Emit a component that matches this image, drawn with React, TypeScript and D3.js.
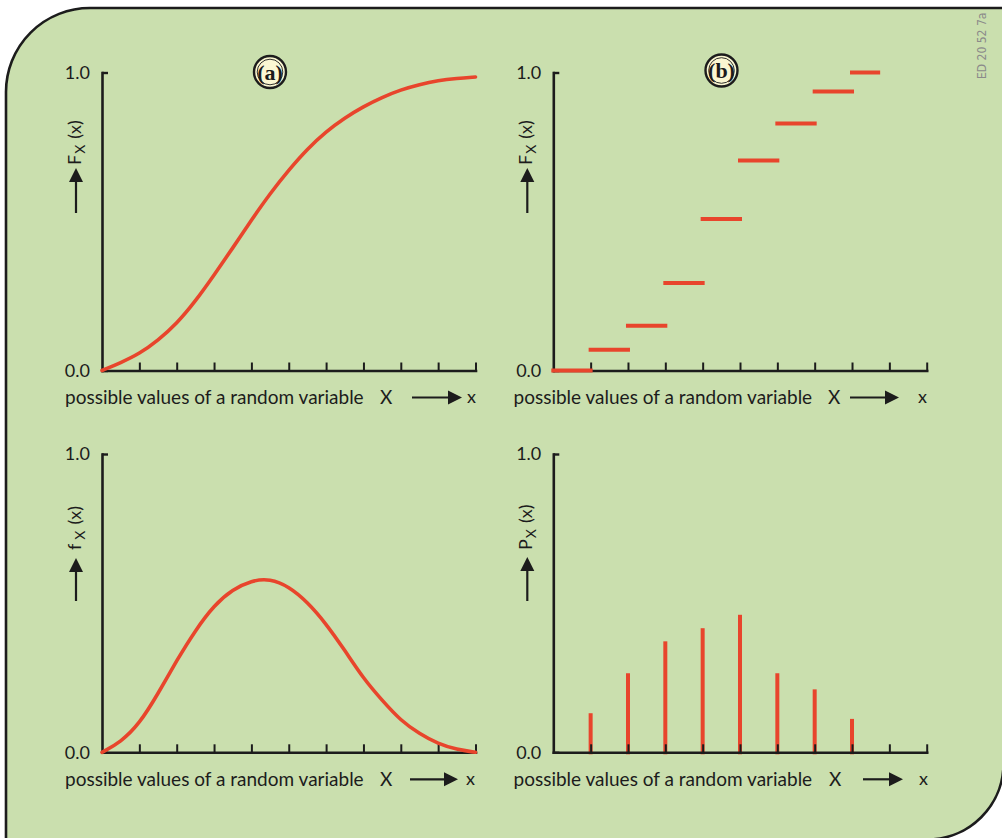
import { useEffect, useRef } from 'react';
import * as d3 from 'd3';

const W = 1002;
const H = 838;
const RED = '#e8452c';
const INK = '#1c1c1c';
const GREEN = '#cadfae';
const CREAM = '#fbf7d2';
const FONT = 'Lato, "Open Sans", sans-serif';

// shared axis data
const xTickValues = [1, 2, 3, 4, 5, 6, 7, 8, 9, 10];
const yTickValues = [0, 1];
const xAxisTitle = 'possible values of a random variable';

// (a) cumulative distribution of a continuous variable
const cdfX = [0, 0.5, 1, 1.5, 2, 2.5, 3, 3.5, 4, 4.5, 5, 5.5, 6, 6.5, 7, 7.5, 8, 8.5, 9, 9.5, 10];
const cdfY = [0, 0.026, 0.056, 0.101, 0.157, 0.232, 0.32, 0.411, 0.505, 0.594, 0.673, 0.744, 0.802, 0.848, 0.886, 0.917, 0.942, 0.96, 0.973, 0.98, 0.985];

// (b) cumulative distribution of a discrete variable
const stepStart = [0, 1, 2, 3, 4, 5, 6, 7, 8];
const stepEnd = [1, 2, 3, 4, 5, 6, 7, 8, 8.7];
const stepValue = [0, 0.07, 0.15, 0.294, 0.508, 0.705, 0.829, 0.936, 1.0];

// (c) density of a continuous variable
const pdfX = [0, 0.5, 1, 1.5, 2, 2.5, 3, 3.5, 4, 4.5, 5, 5.5, 6, 6.5, 7, 7.5, 8, 8.5, 9, 9.5, 10];
const pdfY = [0, 0.034, 0.095, 0.196, 0.308, 0.409, 0.493, 0.546, 0.576, 0.582, 0.556, 0.504, 0.431, 0.342, 0.247, 0.174, 0.106, 0.062, 0.028, 0.009, 0];

// (d) probability mass of a discrete variable
const stemX = [1, 2, 3, 4, 5, 6, 7, 8];
const stemP = [0.131, 0.265, 0.372, 0.416, 0.461, 0.265, 0.211, 0.112];

const cols = [
  { x0: 102, x1: 475.5 },
  { x0: 553.3, x1: 926.7 },
];
const rows = [
  { y0: 370.5, y1: 72.5 },
  { y0: 752.3, y1: 454 },
];

type Panel = {
  kind: 'cdf' | 'step' | 'pdf' | 'stem';
  col: number;
  row: number;
  sym: string;
  symGap: number;
  titleX: number;
  bigX: number;
  arrow: [number, number];
  smallX: number;
  labelBase: number;
  yArrow: [number, number];
  badge?: { label: string; cx: number; cy: number };
};

const panels: Panel[] = [
  { kind: 'cdf', col: 0, row: 0, sym: 'F', symGap: 0, titleX: 65, bigX: 380, arrow: [412, 462], smallX: 467, labelBase: 165, yArrow: [168, 213], badge: { label: '(a)', cx: 270, cy: 72 } },
  { kind: 'step', col: 1, row: 0, sym: 'F', symGap: 0, titleX: 513.5, bigX: 828, arrow: [850, 899], smallX: 918, labelBase: 165, yArrow: [168, 213], badge: { label: '(b)', cx: 721.5, cy: 70.5 } },
  { kind: 'pdf', col: 0, row: 1, sym: 'f', symGap: 3, titleX: 65, bigX: 380, arrow: [410, 458], smallX: 466, labelBase: 550, yArrow: [558, 601] },
  { kind: 'stem', col: 1, row: 1, sym: 'P', symGap: 0, titleX: 513.5, bigX: 829, arrow: [863, 903], smallX: 919, labelBase: 550, yArrow: [557, 601] },
];

function drawPanel(svg: d3.Selection<SVGSVGElement, unknown, null, undefined>, p: Panel) {
  const col = cols[p.col];
  const row = rows[p.row];
  const x = d3.scaleLinear().domain([0, 10]).range([col.x0, col.x1]);
  const y = d3.scaleLinear().domain([0, 1]).range([row.y0, row.y1]);
  const g = svg.append('g');

  // stems sit under the axis ticks
  if (p.kind === 'stem') {
    g.selectAll('.stem')
      .data(stemX.map((v, i) => [v, stemP[i]]))
      .enter()
      .append('line')
      .attr('x1', (d) => x(d[0]))
      .attr('x2', (d) => x(d[0]))
      .attr('y1', y(0) + 2)
      .attr('y2', (d) => y(d[1]))
      .attr('stroke', RED)
      .attr('stroke-width', 4);
  }

  const xAxis = g
    .append('g')
    .attr('transform', `translate(0,${row.y0})`)
    .call(d3.axisBottom(x).tickValues(xTickValues).tickSizeInner(-8).tickSizeOuter(0).tickFormat(() => ''));
  xAxis.select('.domain').attr('stroke', INK).attr('stroke-width', 2.6).attr('stroke-linecap', 'square');
  xAxis.selectAll('.tick line').attr('stroke', INK).attr('stroke-width', 2);

  const yAxis = g
    .append('g')
    .attr('transform', `translate(${col.x0},0)`)
    .call(
      d3
        .axisLeft(y)
        .tickValues(yTickValues)
        .tickSizeInner(-6)
        .tickSizeOuter(0)
        .tickPadding(12)
        .tickFormat(d3.format('.1f'))
    );
  yAxis.select('.domain').attr('stroke', INK).attr('stroke-width', 2.6).attr('stroke-linecap', 'square');
  yAxis.selectAll('.tick line').attr('stroke', INK).attr('stroke-width', 2.4);
  yAxis
    .selectAll('text')
    .style('font-family', FONT)
    .style('font-size', '18px')
    .attr('fill', INK);

  // smoothing spline through the points
  const line = d3
    .line<number[]>()
    .x((d) => x(d[0]))
    .y((d) => y(d[1]))
    .curve(d3.curveBasis);

  if (p.kind === 'cdf' || p.kind === 'pdf') {
    const xs = p.kind === 'cdf' ? cdfX : pdfX;
    const ys = p.kind === 'cdf' ? cdfY : pdfY;
    g.append('path')
      .attr('d', line(xs.map((v, i) => [v, ys[i]])))
      .attr('fill', 'none')
      .attr('stroke', RED)
      .attr('stroke-width', 3.6)
      .attr('stroke-linecap', 'round');
  }

  if (p.kind === 'step') {
    g.selectAll('.step')
      .data(stepStart.map((v, i) => [v, stepEnd[i], stepValue[i]]))
      .enter()
      .append('line')
      .attr('x1', (d) => x(d[0]))
      .attr('x2', (d) => x(d[1]))
      .attr('y1', (d) => y(d[2]))
      .attr('y2', (d) => y(d[2]))
      .attr('stroke', RED)
      .attr('stroke-width', 4)
      .attr('stroke-linecap', 'square');
  }

  // x axis caption with arrow
  const base = row.y0 + 33.5;
  const ay = row.y0 + 27;
  g.append('text')
    .attr('x', p.titleX)
    .attr('y', base)
    .style('font-family', FONT)
    .style('font-size', '19px')
    .attr('fill', INK)
    .text(xAxisTitle);
  g.append('text')
    .attr('x', p.bigX)
    .attr('y', base)
    .style('font-family', FONT)
    .style('font-size', '19px')
    .attr('fill', INK)
    .text('X');
  g.append('line')
    .attr('x1', p.arrow[0])
    .attr('x2', p.arrow[1] - 12)
    .attr('y1', ay)
    .attr('y2', ay)
    .attr('stroke', INK)
    .attr('stroke-width', 2.2);
  g.append('path')
    .attr('d', `M${p.arrow[1]},${ay} L${p.arrow[1] - 14},${ay - 7} L${p.arrow[1] - 14},${ay + 7} Z`)
    .attr('fill', INK);
  g.append('text')
    .attr('x', p.smallX)
    .attr('y', base - 1)
    .style('font-family', FONT)
    .style('font-size', '18px')
    .attr('fill', INK)
    .text('x');

  // y axis caption, rotated, with upward arrow
  const lx = col.x0 - 21;
  const yl = g
    .append('text')
    .attr('transform', `translate(${lx},${p.labelBase}) rotate(-90)`)
    .style('font-family', FONT)
    .style('font-size', '18px')
    .attr('fill', INK);
  yl.append('tspan').text(p.sym);
  yl.append('tspan').attr('dx', p.symGap + 1).attr('dy', 4).style('font-size', '14px').text('X');
  yl.append('tspan').attr('dy', -4).attr('dx', 6).text('(x)');

  const ax = col.x0 - 26;
  g.append('line')
    .attr('x1', ax)
    .attr('x2', ax)
    .attr('y1', p.yArrow[1])
    .attr('y2', p.yArrow[0] + 12)
    .attr('stroke', INK)
    .attr('stroke-width', 2.2);
  g.append('path')
    .attr('d', `M${ax},${p.yArrow[0]} L${ax - 7},${p.yArrow[0] + 14} L${ax + 7},${p.yArrow[0] + 14} Z`)
    .attr('fill', INK);

  if (p.badge) {
    const b = g.append('g').attr('transform', `translate(${p.badge.cx},${p.badge.cy})`);
    b.append('circle').attr('r', 16).attr('fill', CREAM).attr('stroke', INK).attr('stroke-width', 2.4);
    b.append('circle').attr('r', 12.8).attr('fill', 'none').attr('stroke', INK).attr('stroke-width', 0.9);
    b.append('text')
      .attr('text-anchor', 'middle')
      .attr('y', 7.5)
      .style('font-family', '"Liberation Serif", "DejaVu Serif", serif')
      .style('font-size', '22px')
      .style('font-weight', 'bold')
      .attr('fill', INK)
      .text(p.badge.label);
  }
}

export default function App() {
  const svgRef = useRef<SVGSVGElement>(null);

  useEffect(() => {
    if (!svgRef.current) return;
    const svg = d3.select(svgRef.current);
    svg.selectAll('*').remove();

    svg.append('rect').attr('width', W).attr('height', H).attr('fill', '#ffffff');

    // rounded card behind the four panels
    svg
      .append('path')
      .attr('d', 'M6,839.5 V92 A84,84 0 0 1 90,8 H1003.5 V763.5 A76,76 0 0 1 927.5,839.5 Z')
      .attr('fill', GREEN)
      .attr('stroke', INK)
      .attr('stroke-width', 2.6);

    svg
      .append('text')
      .attr('transform', 'translate(986,79) rotate(-90)')
      .style('font-family', '"Liberation Sans Narrow", "DejaVu Sans Condensed", sans-serif')
      .style('font-size', '12px')
      .attr('fill', '#8a8a8a')
      .text('ED 20 52 7a');

    panels.forEach((p) => drawPanel(svg, p));
  }, []);

  return (
    <svg
      ref={svgRef}
      width={W}
      height={H}
      style={{ position: 'absolute', left: 0, top: 0, display: 'block' }}
    />
  );
}
